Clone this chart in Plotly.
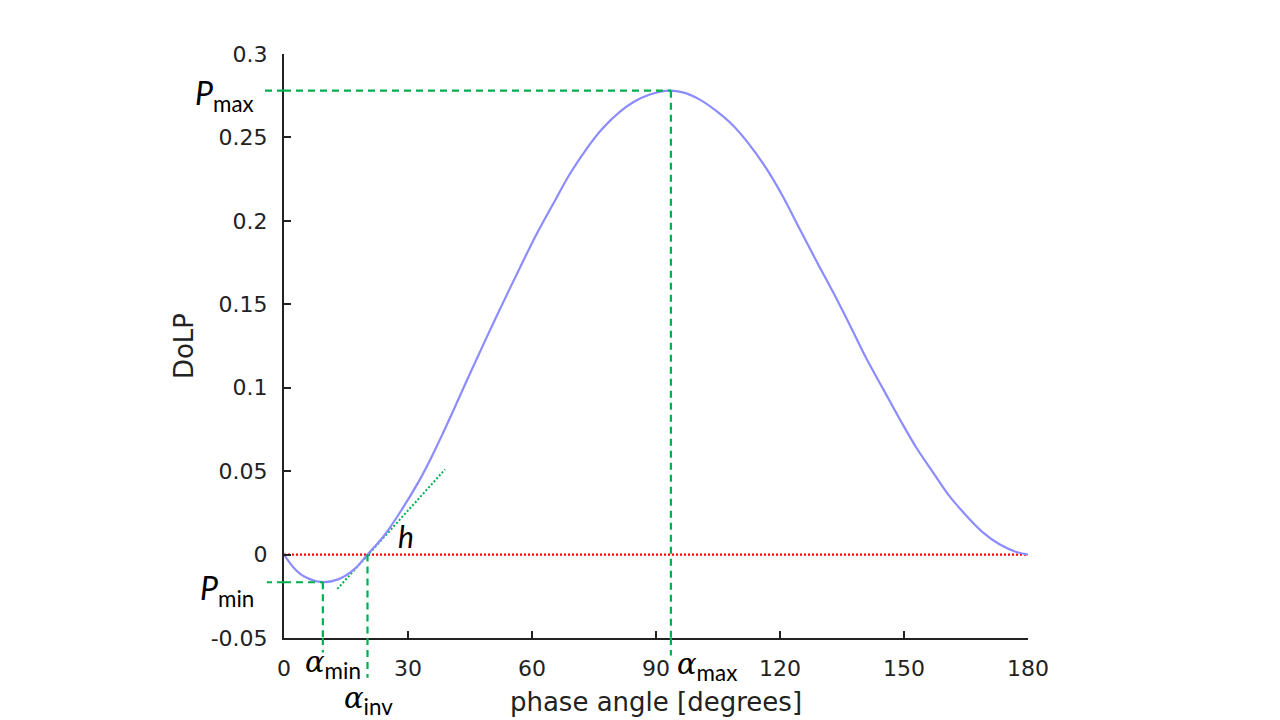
import plotly.graph_objects as go

# DoLP curve (phase angle in degrees)
phase = [0, 2.4, 4.8, 8.9, 12.9, 16.9, 20.2, 24.2, 28.2, 32.3, 35.5, 38.5, 41.0,
         45.0, 49.0, 53.0, 57.1, 61.0, 65.2, 69.0, 73.2, 77.0, 81.3, 85.0, 88.5,
         91.0, 93.6, 97.0, 100.7, 104.5, 108.7, 112.5, 116.8, 120.5, 124.8, 128.8,
         132.9, 137.0, 141.0, 145.0, 149.0, 153.0, 157.1, 161.0, 165.2, 169.0,
         173.2, 177.0, 180.0]
dolp = [0, -0.008, -0.013, -0.0164, -0.015, -0.009, 0, 0.0113, 0.0258, 0.0425, 0.0575,
        0.073, 0.0865, 0.1085, 0.130, 0.151, 0.172, 0.1915, 0.2105, 0.2275, 0.2432, 0.2552,
        0.2655, 0.2718, 0.2757, 0.2774, 0.278, 0.2767, 0.2725, 0.266, 0.257, 0.246,
        0.231, 0.2155, 0.195, 0.176, 0.157, 0.137, 0.117, 0.099, 0.081, 0.064, 0.049,
        0.035, 0.023, 0.0135, 0.006, 0.0017, 0.0]

# characteristic points
alpha_min = 9.4
p_min = -0.0166
alpha_inv = 20.2
alpha_max = 93.6
p_max = 0.278

# slope h at inversion (dotted tangent)
tangent_x = [12.9, 38.95]
tangent_y = [-0.0206, 0.051]

x_ticks = [0, 30, 60, 90, 120, 150, 180]
y_ticks = [-0.05, 0, 0.05, 0.1, 0.15, 0.2, 0.25, 0.3]
y_labels = ["-0.05", "0", "0.05", "0.1", "0.15", "0.2", "0.25", "0.3"]

green = "#00b050"
dash = "7px,5px"
txt = "#222222"
lbl_font = dict(family="Lato, Open Sans", size=32, color="black")
greek = '<span style="font-family:DejaVu Serif;font-style:italic;font-size:29px">α</span>'

fig = go.Figure()

fig.add_trace(go.Scatter(x=[0, 180], y=[0, 0], mode="lines",
                         line=dict(color="#ff0000", width=2.2, dash="2px,2px"),
                         showlegend=False, hoverinfo="skip"))
fig.add_trace(go.Scatter(x=tangent_x, y=tangent_y, mode="lines",
                         line=dict(color=green, width=2, dash="2px,2px"),
                         showlegend=False, hoverinfo="skip"))
fig.add_trace(go.Scatter(x=phase, y=dolp, mode="lines",
                         line=dict(color="#8c8cff", width=2.2, shape="spline", smoothing=1),
                         showlegend=False))

shapes = []
# inside the plot area
shapes.append(dict(type="line", xref="x", yref="y", x0=0, x1=alpha_max, y0=p_max, y1=p_max))
shapes.append(dict(type="line", xref="x", yref="y", x0=alpha_max, x1=alpha_max, y0=p_max, y1=-0.05))
shapes.append(dict(type="line", xref="x", yref="y", x0=0, x1=alpha_min, y0=p_min, y1=p_min))
shapes.append(dict(type="line", xref="x", yref="y", x0=alpha_min, x1=alpha_min, y0=p_min, y1=-0.05))
shapes.append(dict(type="line", xref="x", yref="y", x0=alpha_inv, x1=alpha_inv, y0=0, y1=-0.05))
# extensions beyond the axes
shapes.append(dict(type="line", xref="paper", yref="y", x0=0, x1=-0.03, y0=p_max, y1=p_max))
shapes.append(dict(type="line", xref="paper", yref="y", x0=0, x1=-0.023, y0=p_min, y1=p_min))
shapes.append(dict(type="line", xref="x", yref="paper", x0=alpha_max, x1=alpha_max, y0=0, y1=-0.03))
shapes.append(dict(type="line", xref="x", yref="paper", x0=alpha_min, x1=alpha_min, y0=0, y1=-0.025))
shapes.append(dict(type="line", xref="x", yref="paper", x0=alpha_inv, x1=alpha_inv, y0=0, y1=-0.068))
for s in shapes:
    s["line"] = dict(color=green, width=2.2, dash=dash)
    s["layer"] = "above"

annotations = [
    dict(text="<i>P</i><sub>max</sub>", xref="paper", yref="y", x=0, y=p_max,
         xanchor="right", yanchor="middle", xshift=-28, yshift=-4),
    dict(text="<i>P</i><sub>min</sub>", xref="paper", yref="y", x=0, y=p_min,
         xanchor="right", yanchor="middle", xshift=-28, yshift=-8),
    dict(text=greek + "<sub>min</sub>", xref="x", yref="paper", x=alpha_min, y=0,
         xanchor="center", yanchor="top", xshift=10, yshift=-5),
    dict(text=greek + "<sub>inv</sub>", xref="x", yref="paper", x=alpha_inv, y=0,
         xanchor="center", yanchor="top", xshift=1, yshift=-41),
    dict(text=greek + "<sub>max</sub>", xref="x", yref="paper", x=alpha_max, y=0,
         xanchor="left", yanchor="top", xshift=4, yshift=-7),
    dict(text="<i>h</i>", xref="x", yref="y", x=29.5, y=0.011,
         xanchor="center", yanchor="middle", font=dict(family="Lato, Open Sans", size=30, color="black")),
]
for a in annotations:
    a["showarrow"] = False
    a.setdefault("font", lbl_font)

axis_style = dict(showline=True, linecolor=txt, linewidth=2, ticks="inside", ticklen=7,
                  tickwidth=1.5, tickcolor=txt, showgrid=False, zeroline=False,
                  automargin=False,
                  tickfont=dict(family="DejaVu Sans", size=22, color=txt))

fig.update_layout(
    width=1264, height=716, autosize=False,
    margin=dict(l=276, r=244, t=46, b=86),
    plot_bgcolor="white", paper_bgcolor="white",
    font=dict(family="DejaVu Sans", color=txt),
    xaxis=dict(range=[0, 180], tickvals=x_ticks, ticklabelstandoff=10,
               title=dict(text="phase angle [degrees]", font=dict(size=26, color=txt), standoff=12),
               **axis_style),
    yaxis=dict(range=[-0.05, 0.3], tickvals=y_ticks, ticktext=y_labels, ticklabelstandoff=10,
               title=dict(text="DoLP", font=dict(size=26, color=txt), standoff=10),
               **axis_style),
    shapes=shapes,
    annotations=annotations,
)

fig.write_html("out.html")
